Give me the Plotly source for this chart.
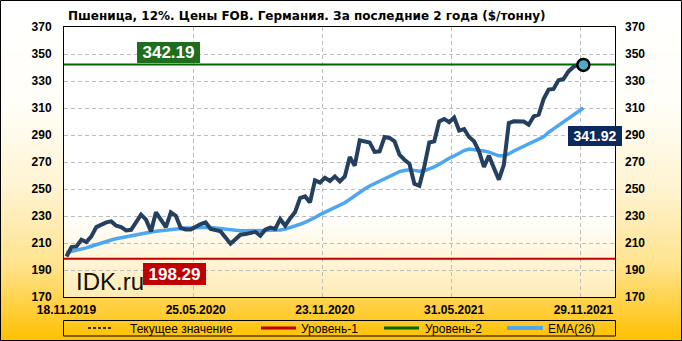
import plotly.graph_objects as go

# ---------------- data ----------------
tick_labels = ["18.11.2019", "25.05.2020", "23.11.2020", "31.05.2021", "29.11.2021"]
tick_pos = [0, 26, 52, 78, 104]
y_ticks = [170, 190, 210, 230, 250, 270, 290, 310, 330, 350, 370]

price = [
    200, 207, 207.5, 212.4, 210.7, 214.9, 221.8, 223.8, 225.3, 226,
    222.8, 221.8, 219.3, 219.8, 225.4, 231, 227.3, 218.6, 232.7, 227.3,
    221.8, 232.7, 230.2, 221.1, 220, 220, 222.3, 224, 225.3, 220.4,
    219.5, 218.6, 214, 209.5, 212.8, 216.1, 216.6, 217.6, 218.3, 215.4,
    219.8, 221.4, 220.4, 227.8, 222.8, 228.2, 233, 243.3, 244.5, 240.1,
    256.4, 254.7, 258.3, 256, 259.3, 255.6, 259.3, 273.7, 267.3, 286,
    285.2, 284.5, 277.5, 277.9, 288.5, 287.8, 285.3, 275.4, 271.7, 268.7,
    253.9, 252.4, 266.7, 284.5, 285.3, 300.1, 301.9, 299.5, 303, 293.3,
    294.4, 288.5, 285.3, 277.9, 266.3, 274.7, 265.6, 256.9, 268, 298.9,
    300.1, 300.1, 300, 297.6, 303.8, 305, 316.6, 323.6, 324.1, 330.5,
    331.5, 337.1, 340.4, 342.19, 341.92,
]

ema26 = [
    203, 203.7, 204.5, 205.3, 206.4, 207.6, 208.9, 210.1, 211.2, 212.2,
    213.2, 214, 214.8, 215.6, 216.4, 217.1, 217.7, 218.2, 218.7, 219.2,
    219.6, 220.1, 220.6, 220.9, 221.1, 221.2, 221.4, 221.7, 221.7, 221.4,
    221.0, 220.6, 220.0, 219.4, 219.1, 219, 219, 219, 219, 219,
    219, 219, 219.1, 219.6, 220.3, 221.3, 222.6, 223.9, 225.3, 226.8,
    228.9, 231, 232.9, 234.9, 236.4, 238, 239.8, 242.5, 245.4, 247.8,
    250, 252.2, 254.1, 256, 257.9, 259.7, 261.6, 262.9, 263.7, 264.2,
    263.8, 263.1, 263.5, 264.6, 266.3, 268.4, 270.9, 272.8, 274.5, 276.5,
    278.5, 279.6, 279.3, 278.8, 278.1, 277.3, 276, 274.6, 274.6, 276,
    278.2, 280, 281.6, 283.1, 285, 286.8, 288.7, 292, 294.6, 297,
    299.6, 302, 304.6, 307.3, 310,
]

level_1 = 198.29
level_2 = 342.19
current_value = 341.92

title_text = "Пшеница, 12%. Цены FOB. Германия. За последние 2 года ($/тонну)"
legend_names = ["Текущее значение", "Уровень-1", "Уровень-2", "EMA(26)"]

# ---------------- geometry / style ----------------
W, H = 682, 341
L, R, T, B = 64, 67, 27, 44
PW, PH = W - L - R, H - T - B

def px(x):
    return (x - L) / PW

def py(y):
    return (T + PH - y) / PH

FONT = "Liberation Sans"
C_PRICE = "#243F60"
C_EMA = "#4DA6F2"
C_RED = "#C00000"
C_GREEN = "#006600"
C_GRID = "#BDBDBD"

x = list(range(len(price)))
x_min, x_max = -0.5, -0.5 + PW / 4.97


def interp_color(stops, t):
    for (t0, c0), (t1, c1) in zip(stops[:-1], stops[1:]):
        if t0 <= t <= t1:
            f = 0 if t1 == t0 else (t - t0) / (t1 - t0)
            c = [round(a + (b - a) * f) for a, b in zip(c0, c1)]
            return "rgb(%d,%d,%d)" % tuple(c)
    c = stops[-1][1]
    return "rgb(%d,%d,%d)" % tuple(c)


shapes = []
# outer gradient background
outer_stops = [(0.0, (255, 255, 255)), (0.3, (255, 254, 248)), (0.55, (255, 244, 210)),
               (0.78, (255, 226, 140)), (1.0, (255, 192, 0))]
step = 2
for y0 in range(0, H, step):
    t = (y0 + step / 2) / H
    shapes.append(dict(type="rect", xref="paper", yref="paper", layer="below",
                       x0=px(0), x1=px(W), y0=py(y0 + step + 0.5), y1=py(y0),
                       fillcolor=interp_color(outer_stops, t), line=dict(width=0)))
# plot area gradient
inner_stops = [(0.0, (255, 255, 255)), (0.7, (255, 255, 255)), (1.0, (255, 236, 180))]
for y0 in range(T, T + PH, step):
    t = (y0 - T + step / 2) / PH
    shapes.append(dict(type="rect", xref="paper", yref="paper", layer="below",
                       x0=0, x1=1, y0=max(0, py(y0 + step + 0.5)), y1=py(y0),
                       fillcolor=interp_color(inner_stops, t), line=dict(width=0)))

# legend (manual, boxed)
leg_y = 328
shapes.append(dict(type="rect", xref="paper", yref="paper", x0=px(63.5), x1=px(615.5),
                   y0=py(336), y1=py(320.5), line=dict(color="black", width=1),
                   fillcolor="rgba(0,0,0,0)"))
leg_items = [
    (88, 113, "black", 1.3, "3px,2px", 128),
    (261, 296, C_RED, 3, "solid", 299),
    (384, 419, C_GREEN, 3, "solid", 423),
    (507, 543, C_EMA, 4, "solid", 546),
]
annotations = []
for (xa, xb, col, wid, dash, tx), name in zip(leg_items, legend_names):
    shapes.append(dict(type="line", xref="paper", yref="paper", x0=px(xa), x1=px(xb),
                       y0=py(leg_y), y1=py(leg_y), line=dict(color=col, width=wid, dash=dash)))
    annotations.append(dict(xref="paper", yref="paper", x=px(tx), y=py(leg_y + 0.5),
                            xanchor="left", yanchor="middle", showarrow=False, text=name,
                            font=dict(family=FONT, size=12, color="black")))

# outer border
shapes.append(dict(type="rect", xref="paper", yref="paper", layer="above",
                   x0=px(0.5), x1=px(W - 0.5), y0=py(H - 0.5), y1=py(0.5),
                   line=dict(color="black", width=1), fillcolor="rgba(0,0,0,0)"))

# title
annotations.append(dict(xref="paper", yref="paper", x=px(66), y=py(16), xanchor="left",
                        yanchor="middle", showarrow=False, text=title_text,
                        font=dict(family="DejaVu Sans", size=12, color="black", weight="bold")))
# IDK.ru
annotations.append(dict(xref="paper", yref="paper", x=px(74), y=py(281), xanchor="left",
                        yanchor="middle", showarrow=False, text="IDK.ru",
                        font=dict(family=FONT, size=24, color="#111111")))
# value boxes
def value_box(text, cx, cy, w, h, bg, size):
    return dict(xref="paper", yref="paper", x=px(cx), y=py(cy), xanchor="center",
                yanchor="middle", showarrow=False, text=text, width=w, height=h,
                bgcolor=bg, borderpad=0, borderwidth=0,
                font=dict(family=FONT, size=size, color="white", weight="bold"))

annotations.append(value_box("%.2f" % level_2, 168.5, 52.5, 63, 21, "#1E6E1E", 17))
annotations.append(value_box("%.2f" % level_1, 174.5, 273.5, 63, 22, C_RED, 17))
annotations.append(value_box("%.2f" % current_value, 595, 136, 54, 20, "#0A2A5E", 14))

fig = go.Figure()
fig.add_trace(go.Scatter(x=[x_min, x_max], y=[level_2, level_2], mode="lines",
                         line=dict(color=C_GREEN, width=2), name=legend_names[2],
                         showlegend=False, hoverinfo="skip"))
fig.add_trace(go.Scatter(x=x, y=ema26, mode="lines", line=dict(color=C_EMA, width=3.5),
                         name=legend_names[3], showlegend=False))
fig.add_trace(go.Scatter(x=x, y=price, mode="lines", line=dict(color=C_PRICE, width=4),
                         name="Цена", showlegend=False))
fig.add_trace(go.Scatter(x=[x[-1]], y=[price[-1]], mode="markers",
                         marker=dict(size=12, color="#4BACC6", line=dict(color="black", width=2.5)),
                         name=legend_names[0], showlegend=False))
fig.add_trace(go.Scatter(x=[x_min, x_max], y=[level_1, level_1], mode="lines", yaxis="y2",
                         line=dict(color=C_RED, width=2), name=legend_names[1],
                         showlegend=False, hoverinfo="skip"))

tickfont = dict(family=FONT, size=12, color="black", weight="bold")
fig.update_layout(
    width=W, height=H,
    margin=dict(l=L, r=R, t=T, b=B),
    paper_bgcolor="white",
    plot_bgcolor="rgba(0,0,0,0)",
    showlegend=False,
    shapes=shapes,
    annotations=annotations,
    xaxis=dict(range=[x_min, x_max], tickmode="array", tickvals=tick_pos, ticktext=tick_labels,
               showgrid=False, zeroline=False, ticks="", tickfont=tickfont, ticklabelstandoff=2,
               showline=True, mirror=True, linecolor="black", linewidth=1,
               minor=dict(tickmode="array", tickvals=[p - 0.5 for p in tick_pos[1:]],
                          showgrid=True, gridcolor=C_GRID, griddash="4px,3px", gridwidth=1)),
    yaxis=dict(range=[170, 370], tickmode="array", tickvals=y_ticks, showgrid=True,
               gridcolor=C_GRID, griddash="4px,3px", gridwidth=1, zeroline=False, ticks="",
               tickfont=tickfont, ticklabelstandoff=9,
               showline=True, mirror=True, linecolor="black", linewidth=1),
    yaxis2=dict(range=[170, 370], tickmode="array", tickvals=y_ticks, overlaying="y",
                side="right", showgrid=False, zeroline=False, ticks="", tickfont=tickfont,
                ticklabelstandoff=9, showline=False),
)

fig.write_html("out.html")
